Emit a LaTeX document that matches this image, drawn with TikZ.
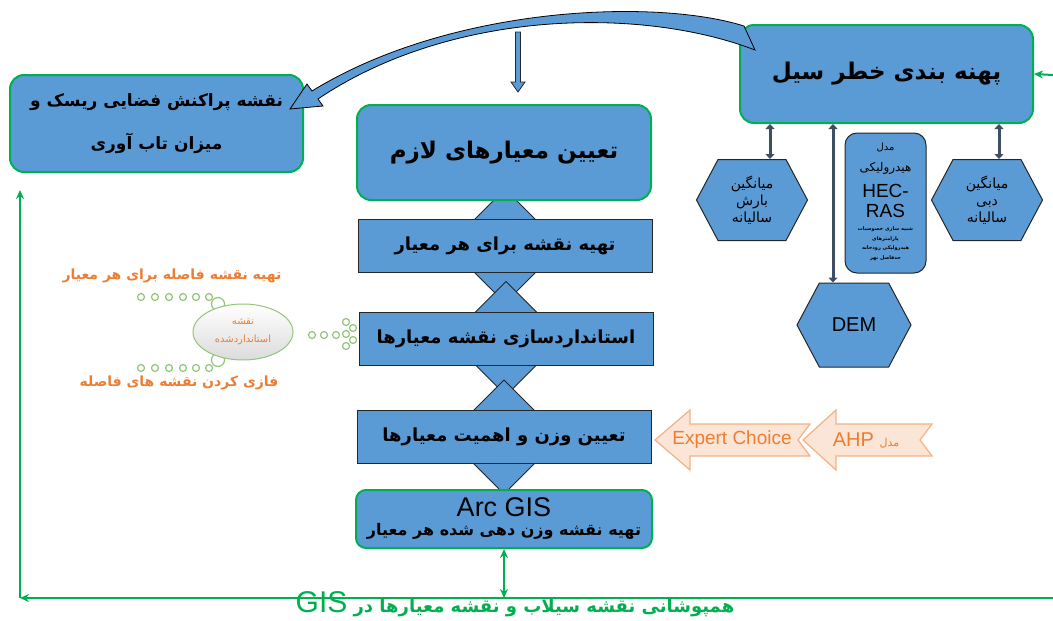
\documentclass[tikz,border=0pt]{standalone}
\usepackage{fontspec}
\setmainfont{Liberation Sans}
\newfontfamily\fa[Script=Arabic]{DejaVu Sans}
\TeXXeTstate=1
\usetikzlibrary{shapes.geometric,% for the ellipse
                shapes.symbols,% signal, used for the hexagons
                arrows.meta,
                calc}
\definecolor{boxblue}{HTML}{5B9BD5}
\definecolor{boxgreen}{HTML}{00B050}
\definecolor{edgedark}{HTML}{262626}
\definecolor{slate}{HTML}{3E4E63}
\definecolor{ahpedge}{HTML}{F4B183}
\definecolor{ahpfill}{HTML}{FBE5D6}
\definecolor{txtorange}{HTML}{ED7D31}
\definecolor{bubblegreen}{HTML}{92C47A}
\newcommand\rl[1]{\beginR#1\endR}

\begin{document}
\begin{tikzpicture}[x=1pt,y=-1pt,
  greenbox/.style={
    rectangle,
    rounded corners=14pt,
    line width=2pt,
    draw=boxgreen,
    fill=boxblue, % the blue of all boxes
    align=center,
    font=\fa\bfseries\fontsize{23}{26}\selectfont
  },
  stepbox/.style={
    rectangle,minimum width=294pt,minimum height=53pt,
    line width=1pt,draw=edgedark,fill=boxblue,
    font=\fa\bfseries\fontsize{18}{22}\selectfont
  },
  chevron/.style={fill=boxblue,draw=edgedark,line width=0.8pt},
  hexbox/.style={
    signal,signal to=east and west,signal pointer angle=124,
    minimum width=111pt,minimum height=81pt,inner sep=0pt,
    line width=1pt,draw=edgedark,fill=boxblue,align=center,
    font=\fa\fontsize{14}{17}\selectfont
  },
  hecbox/.style={
    rectangle,rounded corners=12pt,minimum width=81pt,minimum height=140pt,
    line width=1pt,draw=edgedark,fill=boxblue
  },
  dblarrow/.style={
    draw=slate,line width=3pt,
    {Triangle[length=5pt,width=9pt]}-{Triangle[length=5pt,width=9pt]}
  },
  loopline/.style={draw=boxgreen,line width=2pt},
  ahparrow/.style={draw=ahpedge,fill=ahpfill,line width=1.2pt},
  bubble/.style={
    ellipse,minimum width=100pt,minimum height=56pt,
    line width=1pt,draw=bubblegreen,
    top color=white,bottom color=black!14,
    align=center,text=txtorange,
    font=\fa\fontsize{10}{18}\selectfont
  },
  ring/.style={draw=bubblegreen,line width=1.2pt,fill=white},
  orangetxt/.style={text=txtorange,font=\fa\bfseries\fontsize{14}{16}\selectfont},
  curvearrow/.style={fill=boxblue,draw=black,line width=0.8pt}
]
\useasboundingbox (0,0) rectangle (1053,621);

% boxes of the top row
\node (flood) [greenbox,minimum width=293pt,minimum height=98pt] at (886.5,74) {\rl{پهنه بندی خطر سیل}};
\node (risk) [greenbox,minimum width=293pt,minimum height=97pt,
  font=\fa\bfseries\fontsize{17}{20}\selectfont] at (156.5,123.5)
  {\rl{نقشه پراکنش فضایی ریسک و}\\[22pt]\rl{میزان تاب آوری}};

% central column
\coordinate (s1c) at (505,246);
\coordinate (s2c) at (506,338.5);
\coordinate (s3c) at (504,437);
\foreach \c in {s1c,s2c,s3c}{
  \draw[chevron] ($(\c)+(0,-57)$) -- ($(\c)+(57,0)$) -- ($(\c)+(0,57)$) -- ($(\c)+(-57,0)$) -- cycle;
}
\node (s1) [stepbox] at (s1c) {\rl{تهیه نقشه برای هر معیار}};
\node (s2) [stepbox] at (s2c) {\rl{استانداردسازی نقشه معیارها}};
\node (s3) [stepbox] at (s3c) {\rl{تعیین وزن و اهمیت معیارها}};
\node (crit) [greenbox,minimum width=294pt,minimum height=95pt] at (504,152.5) {\rl{تعیین معیارهای لازم}};
\node (arc) [greenbox,rounded corners=10pt,minimum width=296pt,minimum height=58pt,
  font=\fa\bfseries\fontsize{16}{19}\selectfont] at (504,519)
  {{\rmfamily\mdseries\fontsize{27}{24}\selectfont Arc GIS}\\\rl{تهیه نقشه وزن دهی شده هر معیار}};

% thin arrow into the criteria box
\coordinate (dtop) at (518,32);
\draw[chevron] (dtop) ++(-2.5,0) -- ++(0,50) -- ++(-4.5,0) -- ++(7,10) -- ++(7,-10) -- ++(-4.5,0) -- ++(0,-50) -- cycle;

% right side: data of the flood model
\node (hexL) [hexbox] at (752,200) {\rl{میانگین}\\\rl{بارش}\\\rl{سالیانه}};
\node (hexR) [hexbox] at (987,200) {\rl{میانگین}\\\rl{دبی}\\\rl{سالیانه}};
\node (dem) [hexbox,minimum width=114pt,minimum height=84pt,
  font=\fontsize{20}{22}\selectfont] at (854,325) {DEM};
\node (hec) [hecbox] at (885.5,203) {};
\node (hec1) [font=\fa\fontsize{10}{11}\selectfont] at ($(hec.north)+(0,15)$) {\rl{مدل}};
\node (hec2) [font=\fa\fontsize{12}{13}\selectfont] at ($(hec.north)+(0,36)$) {\rl{هیدرولیکی}};
\node (hec3) [align=center,font=\fontsize{19}{20}\selectfont] at ($(hec.north)+(0,68)$) {HEC-\\RAS};
\node (hec4) [align=center,font=\fa\bfseries\fontsize{5}{9.5}\selectfont] at ($(hec.north)+(0,111)$)
  {\rl{شبیه سازی خصوصیات}\\\rl{پارامترهای}\\\rl{هیدرولیکی رودخانه}\\\rl{حدفاصل نهر}};

\draw[dblarrow] ([xshift=18pt]hexL.north) -- ([xshift=18pt]hexL.north |- flood.south);
\draw[dblarrow] ([xshift=-21pt]dem.north) -- ([xshift=-21pt]dem.north |- flood.south);
\draw[dblarrow] ([xshift=12pt]hexR.north) -- ([xshift=12pt]hexR.north |- flood.south);

% curved block arrow from the flood box to the risk box
\draw[curvearrow] (744,26) .. controls (655,-2) and (450,6) .. (312,91)
  -- (307,84) -- (290,109) -- (323,106) -- (318,99)
  .. controls (450,10) and (640,6) .. (755,50) -- cycle;

% AHP arrows
\draw[ahparrow] (803,440) -- (836,410) -- (836,424) -- (932,424) -- (920,440)
  -- (932,456) -- (836,456) -- (836,470) -- cycle;
\draw[ahparrow] (655,440) -- (690,410) -- (690,424) -- (810,424) -- (798,440)
  -- (810,456) -- (690,456) -- (690,470) -- cycle;
\node (expert) [text=txtorange,font=\fontsize{19}{20}\selectfont] at (732,440) {Expert Choice};
\node (ahp) [text=txtorange,font=\fontsize{20}{22}\selectfont] at (866,440)
  {\rl{{\fa\fontsize{11}{12}\selectfont مدل} \beginL AHP\endL}};

% left: standardised map bubble
\node (distmap) [orangetxt] at (172,276) {\rl{تهیه نقشه فاصله برای هر معیار}};
\node (fuzzy) [orangetxt] at (179,383) {\rl{فازی کردن نقشه های فاصله}};
\foreach \x in {141,155,169,183,196,209}{
  \draw[ring] (\x,297) circle[radius=3.5pt];
  \draw[ring] (\x,368) circle[radius=3.5pt];
}
\draw[ring] (218,304) circle[radius=6.5pt];
\draw[ring] (218,360) circle[radius=6.5pt];
\node (bubble) [bubble] at (243,332) {\rl{نقشه}\\\rl{استانداردشده}};
\foreach \x/\y in {312/335,324/335,336/335,346/322,353/328,346/334,353/340,346/346}{
  \draw[ring] (\x,\y) circle[radius=3.5pt];
}

% green loop at the bottom
\coordinate (br) at (1053,598);
\coordinate (bl) at (20,598);
\coordinate (tl) at (20,190);
\coordinate (rin) at (1053,75);
\draw[loopline,-{Stealth[length=9pt,width=8pt]}] (br) -- (bl);
\draw[loopline,-{Stealth[length=9pt,width=8pt]}] (bl) -- (tl);
\draw[loopline,-{Stealth[length=9pt,width=8pt]}] (rin) -- (flood.east);
\draw[loopline,{Stealth[length=9pt,width=8pt]}-{Stealth[length=9pt,width=8pt]}] (arc.south) -- (arc.south |- bl);
\node (overlay) [anchor=base,text=boxgreen,font=\fa\bfseries\fontsize{18}{18}\selectfont] at (515,612)
  {\rl{همپوشانی نقشه سیلاب و نقشه معیارها در \beginL{\rmfamily\mdseries\fontsize{30}{30}\selectfont GIS}\endL}};
\end{tikzpicture}
\end{document}
